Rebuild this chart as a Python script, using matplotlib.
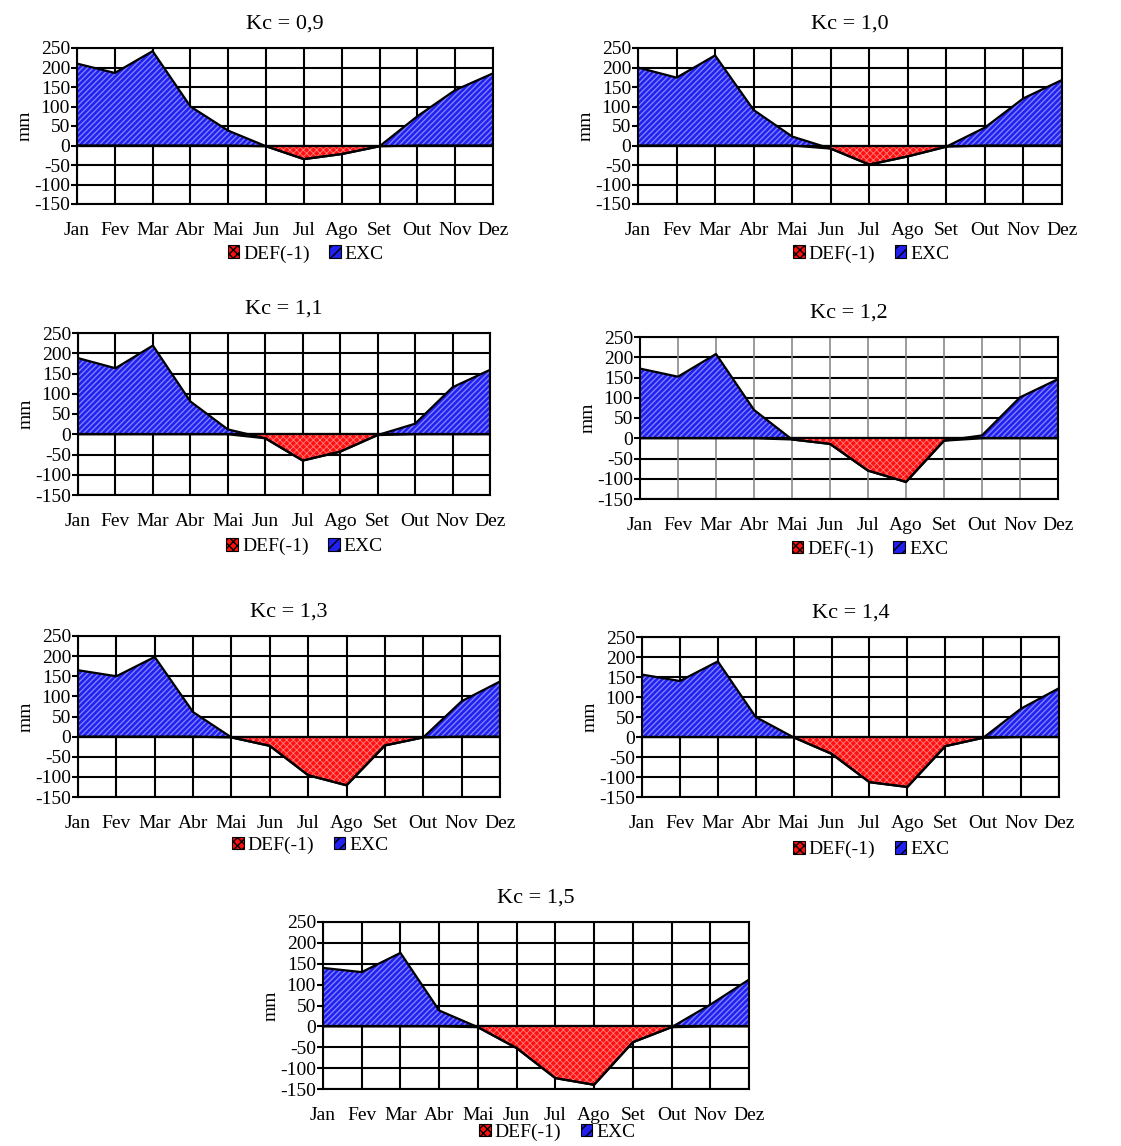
import matplotlib
matplotlib.use("Agg")
import matplotlib.pyplot as plt
import numpy as np
from matplotlib.patches import Patch

plt.rcParams["font.family"] = ["Liberation Serif", "DejaVu Serif"]
plt.rcParams["axes.unicode_minus"] = False

months = ["Jan", "Fev", "Mar", "Abr", "Mai", "Jun", "Jul", "Ago", "Set", "Out", "Nov", "Dez"]
yticks = [-150, -100, -50, 0, 50, 100, 150, 200, 250]
titles = ["Kc = 0,9", "Kc = 1,0", "Kc = 1,1", "Kc = 1,2", "Kc = 1,3", "Kc = 1,4", "Kc = 1,5"]

# deficit (already multiplied by -1) and excess, mm
def_09 = [0, 0, 0, 0, 0, -2, -35, -22, -2, 0, 0, 0]
exc_09 = [210, 186, 242, 100, 38, 0, 0, 0, 0, 75, 142, 185]
def_10 = [0, 0, 0, 0, 0, -8, -49, -28, -3, 0, 0, 0]
exc_10 = [200, 174, 231, 91, 23, 0, 0, 0, 0, 46, 121, 168]
def_11 = [0, 0, 0, 0, 0, -10, -65, -43, -2, 0, 0, 0]
exc_11 = [188, 163, 219, 81, 12, 0, 0, 0, 0, 26, 116, 159]
def_12 = [0, 0, 0, 0, -3, -14, -80, -108, -6, 0, 0, 0]
exc_12 = [172, 152, 208, 70, 0, 0, 0, 0, 0, 7, 101, 146]
def_13 = [0, 0, 0, 0, -2, -23, -96, -121, -22, -2, 0, 0]
exc_13 = [165, 150, 198, 61, 0, 0, 0, 0, 0, 0, 88, 137]
def_14 = [0, 0, 0, 0, -1, -42, -113, -125, -23, -2, 0, 0]
exc_14 = [156, 140, 189, 50, 0, 0, 0, 0, 0, 0, 71, 122]
def_15 = [0, 0, 0, 0, -2, -52, -124, -140, -38, -2, 0, 0]
exc_15 = [140, 130, 176, 38, 0, 0, 0, 0, 0, 0, 52, 112]

series = [(def_09, exc_09), (def_10, exc_10), (def_11, exc_11), (def_12, exc_12),
          (def_13, exc_13), (def_14, exc_14), (def_15, exc_15)]

W, H = 1121, 1146
# plot areas in pixels: x0, x1, ytop, ybottom
boxes = [(77, 493, 48, 204), (638, 1062, 48, 204),
         (78, 490, 333, 495), (640, 1058, 337, 499),
         (78, 500, 636, 797), (642, 1059, 637, 797),
         (323, 749, 922, 1089)]
legend_y = [-0.32, -0.32, -0.32, -0.31, -0.30, -0.33, -0.26]

BLUE, BLUE_H = "#2020f0", "#8080ff"
RED, RED_H = "#ff1010", "#ff8080"

fig = plt.figure(figsize=(W / 100, H / 100), dpi=100)

for i, (title, (dv, ev), (x0, x1, yt, yb)) in enumerate(zip(titles, series, boxes)):
    ax = fig.add_axes([x0 / W, 1 - yb / H, (x1 - x0) / W, (yb - yt) / H])
    x = np.arange(len(months))
    d = np.array(dv, dtype=float)
    top = d + np.array(ev, dtype=float)

    with plt.rc_context({"hatch.linewidth": 0.6}):
        ax.fill_between(x, 0, d, facecolor=RED, edgecolor=RED_H, hatch="xxxxx", lw=0, zorder=2)
    with plt.rc_context({"hatch.linewidth": 1.0}):
        ax.fill_between(x, d, top, facecolor=BLUE, edgecolor=BLUE_H, hatch="//////", lw=0, zorder=2)
    ax.plot(x, top, color="black", lw=1.6, zorder=3)
    ax.plot(x, d, color="black", lw=1.6, zorder=3)
    ax.axhline(0, color="black", lw=1.6, zorder=3)

    ax.set_xlim(0, len(months) - 1)
    ax.set_ylim(-150, 250)
    ax.set_yticks(yticks)
    ax.set_xticks(x)
    ax.set_xticklabels(months, fontsize=14)
    ax.tick_params(axis="x", length=0, pad=13)
    ax.tick_params(axis="y", length=4, width=1.5, pad=1, labelsize=14)
    for yv in yticks:
        ax.axhline(yv, color="black", lw=1.5, zorder=1)
    vcol, vlw = ("#8a8a8a", 1.2) if i == 3 else ("black", 1.5)
    for xv in x:
        ax.axvline(xv, color=vcol, lw=vlw, zorder=1)
    for s in ax.spines.values():
        s.set_linewidth(1.5)
    ax.set_ylabel("mm", fontsize=14, labelpad=0)
    ax.set_title(title, fontsize=16, pad=14)

    with plt.rc_context({"hatch.linewidth": 0.6}):
        handles = [Patch(facecolor=RED, edgecolor="black", hatch="xxxx", lw=0.8, label="DEF(-1)"),
                   Patch(facecolor=BLUE, edgecolor="black", hatch="///", lw=0.8, label="EXC")]
    ax.legend(handles=handles, loc="center", bbox_to_anchor=(0.55, legend_y[i]), ncol=2,
              frameon=False, fontsize=14, handlelength=0.6, handleheight=0.6,
              handletextpad=0.2, columnspacing=1.0, borderaxespad=0)

fig.savefig("out.png", dpi=100)
